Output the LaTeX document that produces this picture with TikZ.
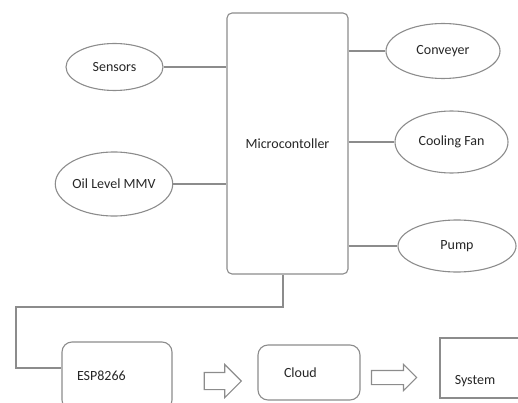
\documentclass[tikz,border=0pt]{standalone}
\usepackage{fontspec}
\setmainfont{Carlito}
\usetikzlibrary{shapes.geometric,shapes.arrows}

\begin{document}
\begin{tikzpicture}[x=1pt, y=-1pt, line width=1.1pt,
    every node/.style = {font=\fontsize{14}{16}\selectfont, text=black!85},
    oval/.style = {draw=black!45, ellipse, inner sep=0pt},
    unit/.style = {draw=black!45, rounded corners=10pt, inner sep=0pt},
    flow/.style = {draw=black!45, single arrow, inner sep=0pt},
    wire/.style = {draw=black!45}]
    \useasboundingbox (0,0) rectangle (518,403);
    \node[unit, rounded corners=5pt, minimum width=121pt, minimum height=261pt] (micro) at (287.5,143.5) {Microcontoller};
    \node[oval, minimum width=97pt, minimum height=47pt] (sensors) at (114.5,67) {Sensors};
    \node[oval, minimum width=108pt, minimum height=64pt] (oil) at (114,184) {Oil Level MMV};
    \node[oval, minimum width=114pt, minimum height=55pt] (conv) at (443,51) {Conveyer};
    \node[oval, minimum width=113pt, minimum height=62pt] (fan) at (451.5,142) {Cooling Fan};
    \node[oval, minimum width=118pt, minimum height=52pt] (pump) at (457,246) {Pump};
    \node[unit, minimum width=110pt, minimum height=68pt, text width=80pt, align=left] (esp) at (117,376) {ESP8266};
    \node[unit, minimum width=102pt, minimum height=55pt, text width=80pt, align=left] (cloud) at (309,372.5) {\hspace*{15pt}Cloud};
    \node[draw=black!45, minimum width=90pt, minimum height=60pt, inner sep=0pt,
          label={[xshift=-10pt, yshift=-13pt]center:System}] (system) at (485,368) {};
    \node[flow, text height=8pt, text depth=8pt, single arrow head extend=8pt, minimum height=37pt] (arrow1) at (218.5,381) {};
    \node[flow, text height=6.5pt, text depth=6.5pt, single arrow head extend=6pt, minimum height=45pt] (arrow2) at (390.5,377.5) {};
    \coordinate (drop) at (283,307);
    \coordinate (bend) at (16,307);
    \coordinate (feed) at (16,368);
    % inputs and outputs
    \draw[wire] (sensors.east) -- (sensors.east -| micro.west);
    \draw[wire] (oil.east) -- (oil.east -| micro.west);
    \draw[wire] (conv.west -| micro.east) -- (conv.west);
    \draw[wire] (fan.west -| micro.east) -- (fan.west);
    \draw[wire] (pump.west -| micro.east) -- (pump.west);
    % link to the wifi module
    \draw[wire] (drop |- micro.south) -- (drop) -- (bend) -- (feed) -- (feed -| esp.west);
\end{tikzpicture}
\end{document}
